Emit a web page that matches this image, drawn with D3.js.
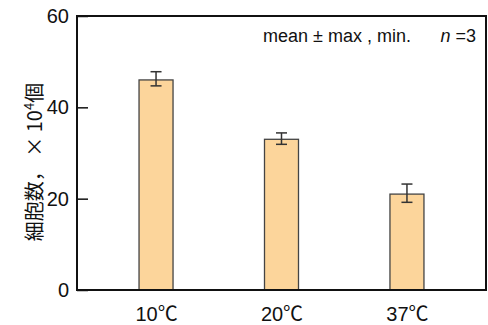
<!DOCTYPE html>
<html>
<head>
<meta charset="utf-8">
<script src="https://cdn.jsdelivr.net/npm/d3@7"></script>
<style>
  body { margin: 0; background: #fff; }
  text { font-family: "Liberation Sans", Arial, "Noto Sans CJK JP", sans-serif; fill: #111; }
</style>
</head>
<body>
<svg id="chart"></svg>
<script>
// データ
const categories = ["10℃", "20℃", "37℃"];
const means = [46, 33, 21];
const maxVals = [47.8, 34.4, 23.2];
const minVals = [44.7, 31.9, 19.2];
const yTicks = [0, 20, 40, 60];

const width = 488, height = 325;
const margin = { top: 16, right: 2, bottom: 35, left: 77 };

const svg = d3.select("#chart")
    .attr("width", width)
    .attr("height", height);

const x = d3.scalePoint()
    .domain(categories)
    .range([margin.left, width - margin.right])
    .padding(0.63);

const y = d3.scaleLinear()
    .domain([0, 60])
    .range([height - margin.bottom, margin.top]);

const barW = 34;
const data = categories.map((c, i) => ({ c, mean: means[i], max: maxVals[i], min: minVals[i] }));

// 棒
svg.append("g")
    .selectAll("rect")
    .data(data)
    .enter().append("rect")
    .attr("x", d => x(d.c) - barW / 2)
    .attr("y", d => y(d.mean))
    .attr("width", barW)
    .attr("height", d => y(0) - y(d.mean))
    .attr("fill", "#fcd59b")
    .attr("stroke", "#444")
    .attr("stroke-width", 1.3);

// エラーバー
const err = svg.append("g").attr("stroke", "#333").attr("stroke-width", 1.5);
data.forEach(d => {
    err.append("line")
        .attr("x1", x(d.c)).attr("x2", x(d.c))
        .attr("y1", y(d.max)).attr("y2", y(d.min));
    [d.max, d.min].forEach(v => {
        err.append("line")
            .attr("x1", x(d.c) - 5.5).attr("x2", x(d.c) + 5.5)
            .attr("y1", y(v)).attr("y2", y(v));
    });
});

// 軸 (目盛りは内向き)
const yAxis = svg.append("g")
    .attr("transform", `translate(${margin.left},0)`)
    .call(d3.axisLeft(y).tickValues(yTicks).tickSize(-11).tickPadding(8));
yAxis.select(".domain").remove();
yAxis.selectAll("line").attr("stroke", "#111").attr("stroke-width", 1.5);
yAxis.selectAll("text")
    .style("font-size", "20px")
    .attr("fill", "#111");

const xAxis = svg.append("g")
    .attr("transform", `translate(0,${y(0)})`)
    .call(d3.axisBottom(x).tickSize(0).tickPadding(17));
xAxis.select(".domain").remove();
xAxis.selectAll("text")
    .style("font-size", "20px")
    .attr("fill", "#111");

// 枠
svg.append("rect")
    .attr("x", margin.left)
    .attr("y", margin.top)
    .attr("width", width - margin.left - margin.right)
    .attr("height", y(0) - margin.top)
    .attr("fill", "none")
    .attr("stroke", "#111")
    .attr("stroke-width", 2);

// 軸ラベル
const yl = svg.append("text")
    .attr("transform", `translate(42,162) rotate(-90)`)
    .attr("text-anchor", "middle")
    .style("font-size", "20px")
    .style("white-space", "pre")
    .style("font-family", "'Noto Sans CJK JP', sans-serif");
yl.append("tspan").text("細胞数， × 10");
yl.append("tspan").attr("dy", -8).style("font-size", "13px").text("4");
yl.append("tspan").attr("dy", 8).text("個");

// 注記
svg.append("text")
    .attr("x", 263)
    .attr("y", 42)
    .style("font-size", "18px")
    .style("white-space", "pre")
    .text("mean ± max , min.");
const nn = svg.append("text")
    .attr("x", 476)
    .attr("y", 42)
    .attr("text-anchor", "end")
    .style("font-size", "18px")
    .style("white-space", "pre");
nn.append("tspan").style("font-style", "italic").text("n");
nn.append("tspan").text(" =3");
</script>
</body>
</html>
